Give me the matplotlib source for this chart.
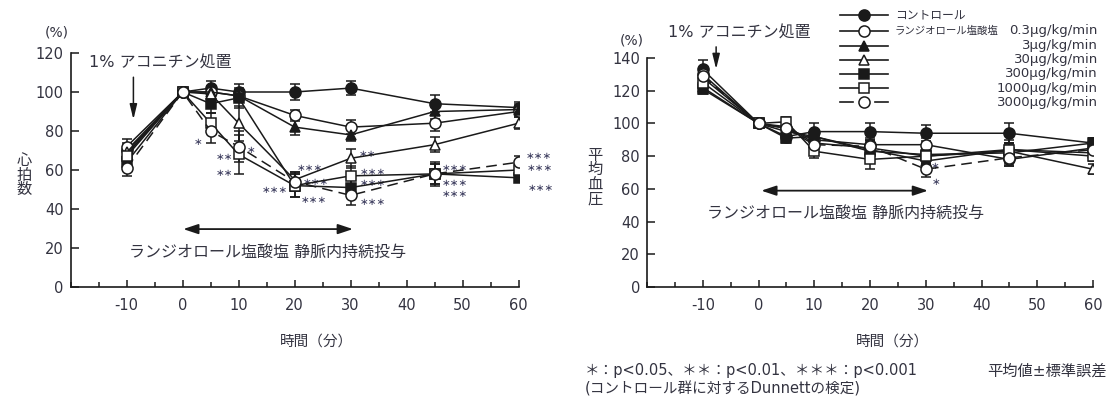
import matplotlib
matplotlib.use("Agg")
import matplotlib.pyplot as plt
from matplotlib.lines import Line2D
from matplotlib.ticker import MultipleLocator

plt.rcParams['font.family'] = ['DejaVu Sans', 'Noto Sans CJK JP']
plt.rcParams['axes.unicode_minus'] = False

# ---------------- data ----------------
time_min = [-10, 0, 5, 10, 20, 30, 45, 60]

group_labels = ["コントロール", "0.3μg/kg/min", "3μg/kg/min", "30μg/kg/min",
                "300μg/kg/min", "1000μg/kg/min", "3000μg/kg/min"]

# heart rate (%)
hr_control = [70, 100, 102, 100, 100, 102, 94, 92]
hr_03 = [72, 100, 100, 98, 88, 82, 84, 90]
hr_3 = [68, 100, 100, 98, 82, 78, 90, 91]
hr_30 = [69, 100, 99, 84, 55, 66, 73, 84]
hr_300 = [64, 100, 94, 97, 52, 51, 58, 56]
hr_1000 = [67, 100, 84, 68, 52, 57, 58, 60]
hr_3000 = [61, 100, 80, 72, 54, 47, 58, 64]

hr_err_control = [4, 0, 3.5, 4, 4, 3.5, 4.5, 3]
hr_err_03 = [4, 0, 3, 3, 3, 3.5, 4, 3]
hr_err_3 = [4, 0, 3, 3, 4, 3, 4, 3]
hr_err_30 = [4, 0, 3, 9, 4, 5, 4, 3]
hr_err_300 = [4, 0, 5, 5, 6, 5, 5, 2]
hr_err_1000 = [4, 0, 5, 10, 6, 5, 5, 3]
hr_err_3000 = [4, 0, 6, 8, 5, 5, 6, 3]

# mean blood pressure (%)
bp_control = [133, 100, 92, 95, 95, 94, 94, 88]
bp_03 = [130, 100, 97, 90, 87, 87, 78, 85]
bp_3 = [122, 100, 95, 92, 84, 77, 84, 82]
bp_30 = [128, 100, 98, 88, 85, 80, 83, 72]
bp_300 = [121, 100, 91, 92, 83, 81, 82, 88]
bp_1000 = [125, 100, 101, 83, 78, 80, 84, 80]
bp_3000 = [129, 100, 97, 87, 86, 72, 79, 84]

bp_err_control = [6, 0, 3, 5, 5, 5, 6, 3]
bp_err_03 = [4, 0, 3, 4, 4, 4, 4, 3]
bp_err_3 = [3, 0, 3, 4, 4, 4, 4, 3]
bp_err_30 = [4, 0, 3, 4, 4, 4, 4, 3]
bp_err_300 = [3, 0, 3, 4, 4, 5, 8, 3]
bp_err_1000 = [4, 0, 3, 4, 6, 5, 4, 3]
bp_err_3000 = [4, 0, 3, 4, 4, 5, 4, 3]

hr_series = [hr_control, hr_03, hr_3, hr_30, hr_300, hr_1000, hr_3000]
hr_errors = [hr_err_control, hr_err_03, hr_err_3, hr_err_30, hr_err_300, hr_err_1000, hr_err_3000]
bp_series = [bp_control, bp_03, bp_3, bp_30, bp_300, bp_1000, bp_3000]
bp_errors = [bp_err_control, bp_err_03, bp_err_3, bp_err_30, bp_err_300, bp_err_1000, bp_err_3000]

# significance marks (time, value-level, mark)
hr_sig_x = [2.7, 7.5, 7.5, 12.3, 22.8, 23.7, 16.4, 23.4, 33.0, 33.9, 33.9, 33.9, 48.6, 48.6, 48.6, 63.7, 63.8, 63.9]
hr_sig_y = [74.5, 66.8, 58.3, 70.3, 60.9, 54, 49.7, 44.6, 68.2, 59.1, 53.1, 43.7, 60.9, 53.1, 47.5, 67.4, 60.9, 50.6]
hr_sig_txt = ["*", "**", "**", "*", "***", "***", "***", "***", "**", "***", "***", "***",
              "***", "***", "***", "***", "***", "***"]
bp_sig_x = [31.7, 31.8]
bp_sig_y = [74.2, 64.4]
bp_sig_txt = ["*", "*"]

# ---------------- styles ----------------
INK = '#1a1a1a'
TXT = '#333340'
styles = [
    dict(marker='o', mfc=INK, ls='-', ms=8),
    dict(marker='o', mfc='white', ls='-', ms=8),
    dict(marker='^', mfc=INK, ls='-', ms=7),
    dict(marker='^', mfc='white', ls='-', ms=7),
    dict(marker='s', mfc=INK, ls='-', ms=7.5),
    dict(marker='s', mfc='white', ls='-', ms=7.5),
    dict(marker='o', mfc='white', ls=(0, (7, 4)), ms=8),
]

W, H = 1109, 403
fig = plt.figure(figsize=(W / 100, H / 100), dpi=100)
ax1 = fig.add_axes([70.7 / W, 1 - 287 / H, (518.6 - 70.7) / W, (287 - 53) / H])
ax2 = fig.add_axes([647 / W, 1 - 287 / H, (1093 - 647) / W, (287 - 58) / H])


def style_axes(ax, ymax):
    ax.set_xlim(-20, 60)
    ax.set_ylim(0, ymax)
    for s in ['top', 'right']:
        ax.spines[s].set_visible(False)
    for s in ['left', 'bottom']:
        ax.spines[s].set_linewidth(1.2)
        ax.spines[s].set_color(INK)
    ax.set_xticks([-10, 0, 10, 20, 30, 40, 50, 60])
    ax.xaxis.set_minor_locator(MultipleLocator(5))
    ax.yaxis.set_major_locator(MultipleLocator(20))
    ax.tick_params(axis='x', which='major', direction='in', length=5, width=1.1,
                   pad=8, labelsize=10.5, labelcolor=TXT, color=INK)
    ax.tick_params(axis='x', which='minor', direction='in', length=3.5, width=1.1, color=INK)
    ax.tick_params(axis='y', which='major', direction='in', length=6, width=1.1,
                   pad=5, labelsize=10.5, labelcolor=TXT, color=INK)


def draw_series(ax, series, errors):
    for vals, errs, st in zip(series, errors, styles):
        ax.errorbar(time_min, vals, yerr=errs, color=INK, lw=1.1, ls=st['ls'],
                    marker=st['marker'], ms=st['ms'], mfc=st['mfc'], mec=INK, mew=1.1,
                    capsize=3.5, capthick=1.1, elinewidth=1.1, zorder=3)


style_axes(ax1, 120)
style_axes(ax2, 140)
draw_series(ax1, hr_series, hr_errors)
draw_series(ax2, bp_series, bp_errors)

SIG = '#3a3a5c'
for xx, yy, t in zip(hr_sig_x, hr_sig_y, hr_sig_txt):
    ax1.text(xx, yy, t.replace('*', '∗'), ha='center', va='center', fontsize=7.5, color=SIG)
for xx, yy, t in zip(bp_sig_x, bp_sig_y, bp_sig_txt):
    ax2.text(xx, yy, t.replace('*', '∗'), ha='center', va='center', fontsize=7.5, color=SIG)

# aconitine annotations
ax1.text(-16.8, 114.9, "1% アコニチン処置", ha='left', va='center', fontsize=11.5, color=TXT)
ax1.annotate('', xy=(-8.8, 84.5), xytext=(-8.8, 109),
             arrowprops=dict(arrowstyle='-|>,head_length=0.9,head_width=0.22', color=INK, lw=1.1))
ax2.text(-16.2, 155.5, "1% アコニチン処置", ha='left', va='center', fontsize=11.5, color=TXT,
         clip_on=False)
ax2.annotate('', xy=(-7.6, 131.5), xytext=(-7.6, 148.5), annotation_clip=False,
             arrowprops=dict(arrowstyle='-|>,head_length=0.9,head_width=0.22', color=INK, lw=1.1))

# infusion period arrows
ax1.annotate('', xy=(0.1, 29.7), xytext=(30.4, 29.7),
             arrowprops=dict(arrowstyle='<|-|>,head_length=0.9,head_width=0.3', color=INK, lw=1.3,
                             shrinkA=0, shrinkB=0))
ax1.text(15.2, 17.8, "ランジオロール塩酸塩 静脈内持続投与", ha='center', va='center',
         fontsize=11.5, color=TXT)
ax2.annotate('', xy=(0.5, 58.9), xytext=(30.4, 58.9),
             arrowprops=dict(arrowstyle='<|-|>,head_length=0.9,head_width=0.3', color=INK, lw=1.3,
                             shrinkA=0, shrinkB=0))
ax2.text(15.6, 44.9, "ランジオロール塩酸塩 静脈内持続投与", ha='center', va='center',
         fontsize=11.5, color=TXT)

# axis unit / labels
fig.text(57 / W, 1 - 33 / H, "(%)", ha='center', va='center', fontsize=10, color=TXT)
fig.text(631.8 / W, 1 - 40 / H, "(%)", ha='center', va='center', fontsize=10, color=TXT)
fig.text(24 / W, 1 - 175 / H, "心\n拍\n数", ha='center', va='center', fontsize=11,
         linespacing=0.95, color=TXT)
fig.text(595 / W, 1 - 177 / H, "平\n均\n血\n圧", ha='center', va='center', fontsize=11,
         linespacing=0.95, color=TXT)
fig.text(316 / W, 1 - 341 / H, "時間（分）", ha='center', va='center', fontsize=10.5, color=TXT)
fig.text(892.6 / W, 1 - 341 / H, "時間（分）", ha='center', va='center', fontsize=10.5, color=TXT)

# footnotes
fig.text(584.5 / W, 1 - 371 / H, "＊：p<0.05、＊＊：p<0.01、＊＊＊：p<0.001",
         ha='left', va='center', fontsize=10.5, color=TXT)
fig.text(584.5 / W, 1 - 389 / H, "(コントロール群に対するDunnettの検定)",
         ha='left', va='center', fontsize=10.5, color=TXT)
fig.text(1107 / W, 1 - 371 / H, "平均値±標準誤差", ha='right', va='center',
         fontsize=11, color=TXT)

# legend (manual)
leg_rows = [15, 30.7, 45.7, 60, 74, 88.3, 102.3]
for i, (st, py) in enumerate(zip(styles, leg_rows)):
    yf = 1 - py / H
    if i == 6:
        fig.add_artist(Line2D([840 / W, 853 / W], [yf, yf], transform=fig.transFigure,
                              color=INK, lw=1.2))
        fig.add_artist(Line2D([875 / W, 888 / W], [yf, yf], transform=fig.transFigure,
                              color=INK, lw=1.2))
    else:
        fig.add_artist(Line2D([840 / W, 888 / W], [yf, yf], transform=fig.transFigure,
                              color=INK, lw=1.2))
    fig.add_artist(Line2D([864 / W], [yf], transform=fig.transFigure, ls='none',
                          marker=st['marker'], ms=st['ms'], mfc=st['mfc'], mec=INK, mew=1.1))
    if i == 0:
        fig.text(895 / W, yf, group_labels[0], ha='left', va='center', fontsize=8.5, color=TXT)
    else:
        fig.text(1098 / W, yf, group_labels[i], ha='right', va='center', fontsize=9.5, color=TXT)
fig.text(895 / W, 1 - leg_rows[1] / H, "ランジオロール塩酸塩", ha='left', va='center',
         fontsize=7.5, color=TXT)

fig.savefig("out.png", dpi=100)
